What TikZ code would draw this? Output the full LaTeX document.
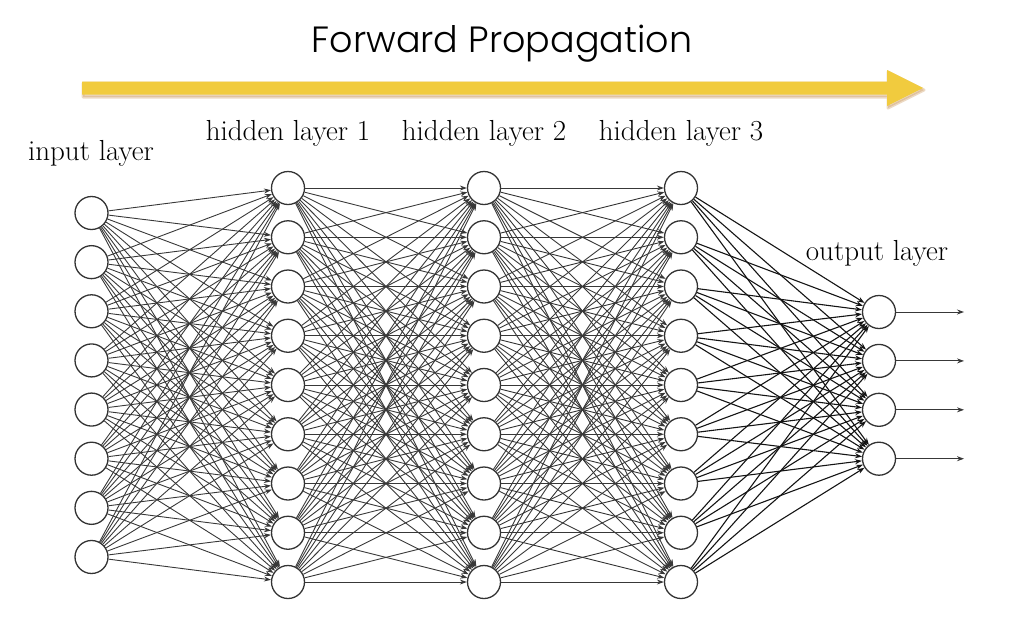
\documentclass[tikz,border=0pt]{standalone}
\usepackage{fontspec}
\newfontfamily\titlefont{Poppins Light}
\usetikzlibrary{arrows.meta}
\definecolor{arrowyellow}{HTML}{F1CB3E}
\definecolor{arrowshadow}{HTML}{C9965A}
\begin{document}
\begin{tikzpicture}[x=1pt,y=-1pt,
  neuron/.style={circle,draw=black!80,line width=1.3pt,minimum size=33pt,inner sep=0pt,fill=white},
  conn/.style={draw=black!78,line width=0.9pt,-{Stealth[length=7pt,width=5pt]}},
  boldconn/.style={conn,draw=black!92,line width=1.1pt},
  lbl/.style={font=\fontsize{29}{33}\selectfont,inner sep=0pt}]
\useasboundingbox (0,0) rectangle (1024,622);
% title and arrow
\node[font=\titlefont\fontsize{36.5}{43}\selectfont,inner sep=0pt] (title) at (502,44) {Forward Propagation};
\fill[arrowshadow,opacity=0.35,line join=round,draw=arrowshadow,line width=3pt]
  (83,83) -- (888,83) -- (888,72) -- (924,90) -- (888,108) -- (888,97) -- (83,97) -- cycle;
\fill[arrowyellow,line join=round]
  (82,81.5) -- (887,81.5) -- (887,70) -- (923,88) -- (887,106) -- (887,94.5) -- (82,94.5) -- cycle;
% neurons
\foreach \i in {1,...,8} \node[neuron] (I\i) at (91.5,{213+49.14*(\i-1)}) {};
\foreach \l/\x in {1/288,2/484,3/681}
  \foreach \i in {1,...,9} \node[neuron] (H\l-\i) at (\x,{188+49.25*(\i-1)}) {};
\foreach \i in {1,...,4} {
  \node[neuron] (O\i) at (879,{312+48.9*(\i-1)}) {};
  \coordinate (E\i) at (964,{312+48.9*(\i-1)});
}
% connections
\foreach \i in {1,...,8} \foreach \j in {1,...,9} \draw[conn] (I\i) -- (H1-\j);
\foreach \i in {1,...,9} \foreach \j in {1,...,9} {
  \draw[conn] (H1-\i) -- (H2-\j);
  \draw[conn] (H2-\i) -- (H3-\j);
}
\foreach \i in {1,...,9} \foreach \j in {1,...,4} \draw[boldconn] (H3-\i) -- (O\j);
\foreach \i in {1,...,4} \draw[conn] (O\i) -- (E\i);
% labels
\node[lbl] (lin) at (91,153) {input layer};
\node[lbl] (lh1) at (288,133) {hidden layer 1};
\node[lbl] (lh2) at (484,133) {hidden layer 2};
\node[lbl] (lh3) at (681,133) {hidden layer 3};
\node[lbl] (lout) at (877,253) {output layer};
\end{tikzpicture}
\end{document}
